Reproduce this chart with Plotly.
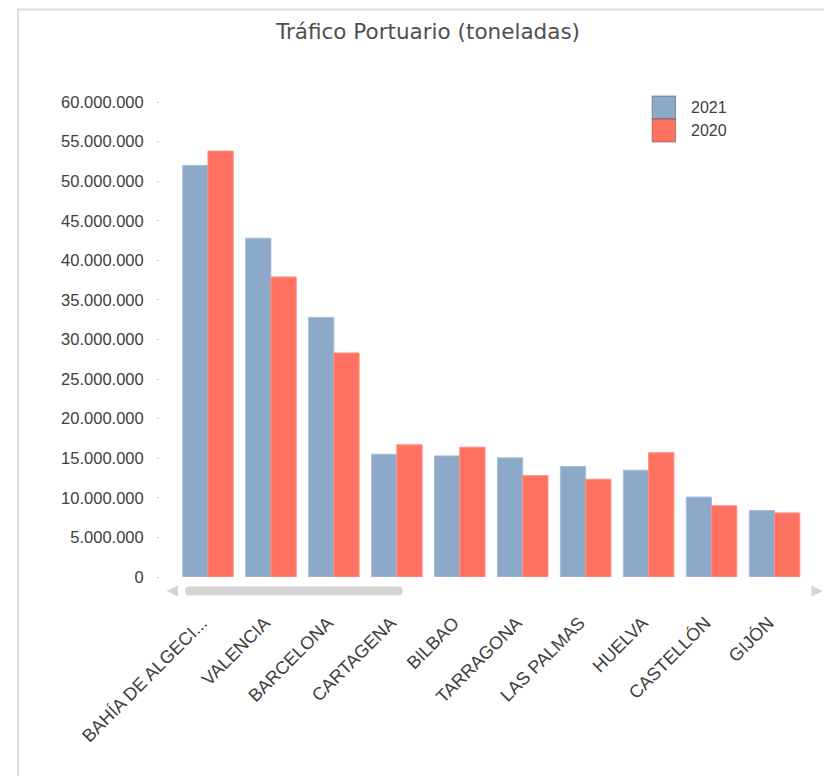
import plotly.graph_objects as go

# ---- data ----
categories = ["BAHÍA DE ALGECI...", "VALENCIA", "BARCELONA", "CARTAGENA", "BILBAO",
              "TARRAGONA", "LAS PALMAS", "HUELVA", "CASTELLÓN", "GIJÓN"]
series_names = ["2021", "2020"]
values_2021 = [52_000_000, 42_800_000, 32_800_000, 15_500_000, 15_300_000,
               15_050_000, 13_950_000, 13_500_000, 10_100_000, 8_400_000]
values_2020 = [53_800_000, 37_900_000, 28_300_000, 16_700_000, 16_400_000,
               12_800_000, 12_350_000, 15_700_000, 9_000_000, 8_100_000]
y_ticks = [0, 5_000_000, 10_000_000, 15_000_000, 20_000_000, 25_000_000, 30_000_000,
           35_000_000, 40_000_000, 45_000_000, 50_000_000, 55_000_000, 60_000_000]

colors = ["#8DA9CA", "#FF7161"]
edge_colors = ["#A9BED8", "#FF9184"]

OFF = 8                      # page body margin
SW, SH = 832, 776            # screen size
W, H = SW - OFF, SH - OFF    # figure size
L, R, T, B = 160, 806.5, 101.5, 577  # plot area in screen px


def px(x):
    return (x - L) / (R - L)


def py(y):
    return (B - y) / (B - T)


fig = go.Figure()
for name, vals, col, ec in zip(series_names, [values_2021, values_2020], colors, edge_colors):
    fig.add_trace(go.Bar(
        x=categories, y=vals, name=name,
        marker=dict(color=col, line=dict(color=ec, width=1)),
        showlegend=False,
    ))

shapes = []
# outer frame (left + top)
shapes.append(dict(type="path", xref="paper", yref="paper",
                   path=f"M {px(18)} {py(SH + 5)} L {px(18)} {py(9)} L {px(SW + 5)} {py(9)}",
                   line=dict(color="#dcdcdc", width=2)))
# scrollbar thumb (rounded)
x0, x1, y0, y1, r = 185, 403, 586.5, 595.5, 4.5
rx = r / (R - L)
ry = r / (B - T)
shapes.append(dict(
    type="path", xref="paper", yref="paper",
    path=(f"M {px(x0) + rx} {py(y0)} L {px(x1) - rx} {py(y0)} "
          f"Q {px(x1)} {py(y0)} {px(x1)} {py(y0) - ry} "
          f"Q {px(x1)} {py(y1)} {px(x1) - rx} {py(y1)} "
          f"L {px(x0) + rx} {py(y1)} "
          f"Q {px(x0)} {py(y1)} {px(x0)} {py(y1) + ry} "
          f"Q {px(x0)} {py(y0)} {px(x0) + rx} {py(y0)} Z"),
    fillcolor="#d4d4d4", line=dict(width=0)))
# scroll arrows
shapes.append(dict(type="path", xref="paper", yref="paper",
                   path=f"M {px(166.5)} {py(591)} L {px(178)} {py(585.5)} L {px(178)} {py(596.5)} Z",
                   fillcolor="#d4d4d4", line=dict(width=0)))
shapes.append(dict(type="path", xref="paper", yref="paper",
                   path=f"M {px(823.5)} {py(591)} L {px(812)} {py(585.5)} L {px(812)} {py(596.5)} Z",
                   fillcolor="#d4d4d4", line=dict(width=0)))

annotations = []
# custom legend
leg_y = [95.5, 118.5]
for i, (name, col) in enumerate(zip(series_names, colors)):
    top = leg_y[i]
    shapes.append(dict(type="rect", xref="paper", yref="paper",
                       x0=px(652.5), x1=px(676), y0=py(top), y1=py(top + 23),
                       fillcolor=col, line=dict(color="rgba(90,90,90,0.6)", width=1)))
    annotations.append(dict(xref="paper", yref="paper", x=px(689), y=py(top + 11.5),
                            text=name, showarrow=False, xanchor="left", yanchor="middle",
                            font=dict(family="Liberation Sans, Arial, sans-serif", size=16,
                                      color="#404040")))

fig.update_layout(
    width=W, height=H,
    margin=dict(l=L - OFF, r=SW - R, t=T - OFF, b=SH - B, pad=0),
    paper_bgcolor="white", plot_bgcolor="white",
    separators=",.",
    barmode="group", bargap=0.197, bargroupgap=0,
    title=dict(text="Tráfico Portuario (toneladas)", x=(428 - OFF) / W, xanchor="center",
               y=1 - (31 - OFF) / H, yanchor="middle",
               font=dict(family="DejaVu Sans, sans-serif", size=21.5, color="#4f4f4f")),
    xaxis=dict(range=[-0.762, 9.5], showgrid=False, showline=False, zeroline=False,
               tickangle=-45, ticks="", ticklabelstandoff=31, ticklabelshift=-6,
               tickfont=dict(family="Liberation Sans, Arial, sans-serif", size=18, color="#404040"),
               fixedrange=True),
    yaxis=dict(range=[0, 60_000_000], tickvals=y_ticks, tickformat=",.0f",
               showgrid=False, showline=False, zeroline=False,
               ticks="outside", ticklen=2, tickwidth=1, tickcolor="#c8c8c8",
               ticklabelstandoff=10,
               tickfont=dict(family="Liberation Sans, Arial, sans-serif", size=16.5, color="#404040"),
               fixedrange=True),
    shapes=shapes, annotations=annotations,
)

fig.write_html("out.html")
